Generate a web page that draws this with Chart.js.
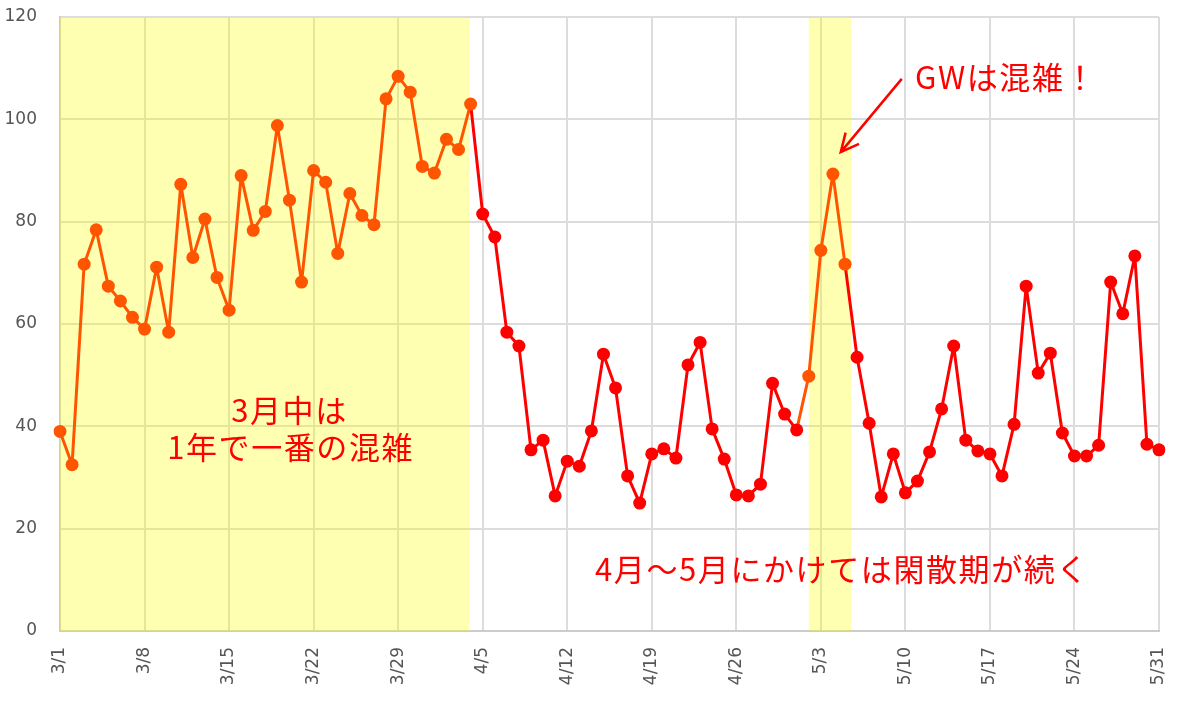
<!DOCTYPE html>
<html>
<head>
<meta charset="utf-8">
<script src="https://cdn.jsdelivr.net/npm/chart.js@4"></script>
<style>
  body { margin: 0; background: #fff; }
  #wrap { width: 1200px; height: 712px; }
</style>
</head>
<body>
<div id="wrap"><canvas id="crowdChart" width="1200" height="712"></canvas></div>
<script>
// --- Data ---
const days = [
    "3/1", "3/2", "3/3", "3/4", "3/5", "3/6", "3/7",
    "3/8", "3/9", "3/10", "3/11", "3/12", "3/13", "3/14",
    "3/15", "3/16", "3/17", "3/18", "3/19", "3/20", "3/21",
    "3/22", "3/23", "3/24", "3/25", "3/26", "3/27", "3/28",
    "3/29", "3/30", "3/31", "4/1", "4/2", "4/3", "4/4",
    "4/5", "4/6", "4/7", "4/8", "4/9", "4/10", "4/11",
    "4/12", "4/13", "4/14", "4/15", "4/16", "4/17", "4/18",
    "4/19", "4/20", "4/21", "4/22", "4/23", "4/24", "4/25",
    "4/26", "4/27", "4/28", "4/29", "4/30", "5/1", "5/2",
    "5/3", "5/4", "5/5", "5/6", "5/7", "5/8", "5/9",
    "5/10", "5/11", "5/12", "5/13", "5/14", "5/15", "5/16",
    "5/17", "5/18", "5/19", "5/20", "5/21", "5/22", "5/23",
    "5/24", "5/25", "5/26", "5/27", "5/28", "5/29", "5/30",
    "5/31",
];

const crowd = [
    39, 32.5, 71.7, 78.4, 67.4, 64.5, 61.3,
    59, 71.1, 58.4, 87.3, 73, 80.5, 69.1,
    62.7, 89, 78.3, 82, 98.8, 84.2, 68.2,
    90, 87.7, 73.8, 85.5, 81.2, 79.4, 104,
    108.4, 105.3, 90.8, 89.5, 96.1, 94.1, 103,
    81.5, 77, 58.4, 55.7, 35.4, 37.3, 26.4,
    33.2, 32.2, 39.1, 54.1, 47.5, 30.3, 25,
    34.6, 35.6, 33.8, 52, 56.4, 39.5, 33.6,
    26.6, 26.4, 28.7, 48.4, 42.4, 39.3, 49.8,
    74.4, 89.3, 71.7, 53.5, 40.6, 26.2, 34.6,
    27, 29.3, 35, 43.4, 55.7, 37.3, 35.2,
    34.6, 30.3, 40.4, 67.4, 50.4, 54.3, 38.7,
    34.2, 34.2, 36.3, 68.2, 62, 73.3, 36.5,
    35.4,
];

const yTicks = [0, 20, 40, 60, 80, 100, 120];
const tickEvery = 7; // one x label per week

// busy periods (index ranges of days), drawn as yellow bands
const busyFrom = [0, 62];
const busyTo = [34, 65];
const bandFrom = [0, 62];
const bandTo = [33.9, 65.5];

// notes, placed in data coordinates (x = day index, y = value)
const notes = [
    { text: "3月中は", x: 19, y: 43.2, align: "center" },
    { text: "1年で一番の混雑", x: 19.1, y: 36.0, align: "center" },
    { text: "4月〜5月にかけては閑散期が続く", x: 44.3, y: 12.0, align: "left" },
    { text: "GWは混雑！", x: 70.8, y: 108.3, align: "left" },
];
const arrowFrom = { x: 69.7, y: 107.9 };
const arrowTo = { x: 64.65, y: 93.6 };

const RED = "#ff0000";
const ORANGE = "#ff5500";

function isBusy(i) {
    for (let k = 0; k < busyFrom.length; k++) {
        if (i >= busyFrom[k] && i <= busyTo[k]) return true;
    }
    return false;
}

// --- Plugins ---
const bandPlugin = {
    id: "bands",
    beforeDatasetsDraw(chart) {
        const { ctx, chartArea, scales } = chart;
        ctx.save();
        ctx.fillStyle = "rgba(255, 255, 0, 0.3)";
        for (let k = 0; k < bandFrom.length; k++) {
            const x0 = scales.x.getPixelForValue(bandFrom[k]);
            const x1 = scales.x.getPixelForValue(bandTo[k]);
            ctx.fillRect(x0, chartArea.top, x1 - x0, chartArea.bottom - chartArea.top);
        }
        ctx.restore();
    },
};

const notePlugin = {
    id: "notes",
    afterDatasetsDraw(chart) {
        const { ctx, scales } = chart;
        ctx.save();
        ctx.fillStyle = RED;
        ctx.font = '31px "Noto Sans CJK JP"';
        ctx.letterSpacing = "1.6px";
        ctx.textBaseline = "middle";
        notes.forEach((n) => {
            ctx.textAlign = n.align;
            ctx.fillText(n.text, scales.x.getPixelForValue(n.x), scales.y.getPixelForValue(n.y));
        });

        // arrow pointing at the GW peak
        const x0 = scales.x.getPixelForValue(arrowFrom.x);
        const y0 = scales.y.getPixelForValue(arrowFrom.y);
        const x1 = scales.x.getPixelForValue(arrowTo.x);
        const y1 = scales.y.getPixelForValue(arrowTo.y);
        const ang = Math.atan2(y1 - y0, x1 - x0);
        const head = 20;
        ctx.strokeStyle = RED;
        ctx.lineWidth = 2.5;
        ctx.beginPath();
        ctx.moveTo(x0, y0);
        ctx.lineTo(x1, y1);
        ctx.moveTo(x1 - head * Math.cos(ang - 0.45), y1 - head * Math.sin(ang - 0.45));
        ctx.lineTo(x1, y1);
        ctx.lineTo(x1 - head * Math.cos(ang + 0.45), y1 - head * Math.sin(ang + 0.45));
        ctx.stroke();
        ctx.restore();
    },
};

// --- Chart ---
const ctx = document.getElementById("crowdChart").getContext("2d");
const pointColors = crowd.map((v, i) => (isBusy(i) ? ORANGE : RED));

new Chart(ctx, {
    type: "line",
    data: {
        labels: days,
        datasets: [
            {
                label: "混雑度",
                data: crowd,
                borderColor: RED,
                borderWidth: 3,
                borderJoinStyle: "round",
                pointBackgroundColor: pointColors,
                pointBorderColor: pointColors,
                pointRadius: 6.5,
                pointBorderWidth: 0,
                tension: 0,
                segment: {
                    borderColor: (c) => (isBusy(c.p1DataIndex) ? ORANGE : RED),
                },
            },
        ],
    },
    options: {
        responsive: false,
        animation: false,
        layout: { padding: { top: 17, right: 41, left: 0, bottom: 0 } },
        plugins: {
            legend: { display: false },
            tooltip: { enabled: false },
        },
        scales: {
            x: {
                type: "category",
                offset: false,
                afterFit: (axis) => {
                    axis.height = 81;
                    axis.paddingLeft = 0;
                    axis.paddingRight = 0;
                },
                grid: {
                    color: "#dcdcdc",
                    lineWidth: 2,
                    drawTicks: false,
                },
                border: { color: "#cccccc", width: 2 },
                ticks: {
                    autoSkip: false,
                    maxRotation: 90,
                    minRotation: 90,
                    padding: 16,
                    color: "#555",
                    font: { family: "DejaVu Sans", size: 17 },
                    callback: (v, i) => (i % tickEvery === 0 ? days[i] : null),
                },
            },
            y: {
                min: 0,
                max: 120,
                afterFit: (axis) => {
                    axis.width = 60;
                    axis.paddingTop = 0;
                    axis.paddingBottom = 0;
                },
                afterBuildTicks: (axis) => {
                    axis.ticks = yTicks.map((v) => ({ value: v }));
                },
                grid: {
                    color: "#dcdcdc",
                    lineWidth: 2,
                    drawTicks: false,
                },
                border: { color: "#cccccc", width: 2 },
                ticks: {
                    padding: 23,
                    color: "#555",
                    font: { family: "DejaVu Sans", size: 17 },
                },
            },
        },
    },
    plugins: [bandPlugin, notePlugin],
});
</script>
</body>
</html>
